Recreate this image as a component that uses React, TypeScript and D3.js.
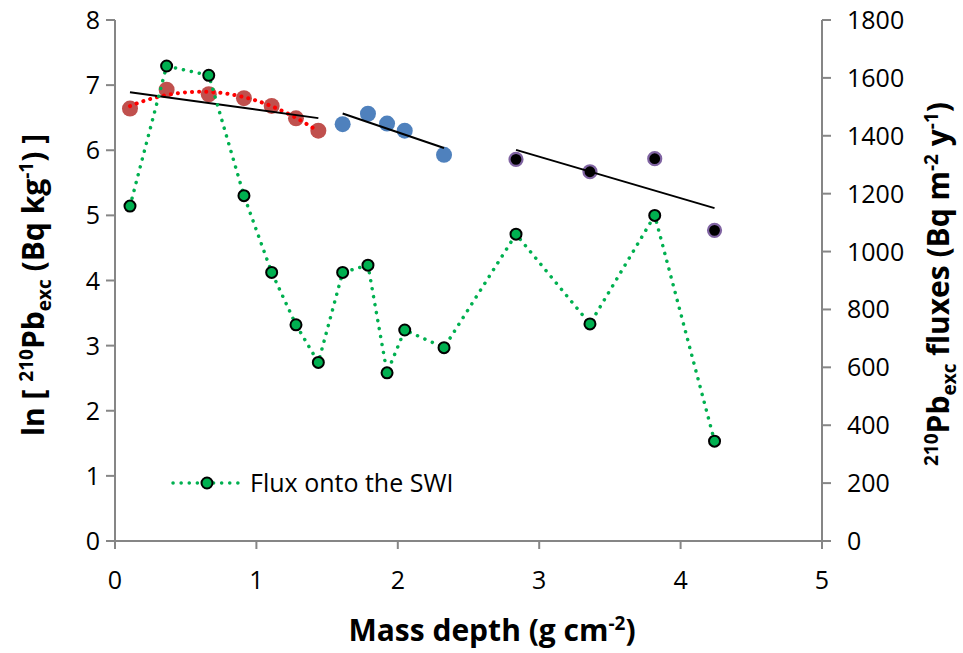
import React from "react";
import * as d3 from "d3";

const depthRed = [0.106, 0.365, 0.663, 0.912, 1.108, 1.28, 1.438];
const lnRed = [6.64, 6.93, 6.86, 6.8, 6.68, 6.49, 6.3];
const depthBlue = [1.61, 1.789, 1.924, 2.049, 2.327];
const lnBlue = [6.4, 6.56, 6.41, 6.3, 5.93];
const depthBlack = [2.836, 3.359, 3.817, 4.24];
const lnBlack = [5.86, 5.67, 5.87, 4.77];
const fluxDepth = [...depthRed, ...depthBlue, ...depthBlack];
const fluxValues = [1157, 1641, 1609, 1193, 928, 747, 617, 928, 953, 581, 729, 668, 1060, 750, 1125, 345];
const xTicks = [0, 1, 2, 3, 4, 5];
const yLeftTicks = [0, 1, 2, 3, 4, 5, 6, 7, 8];
const yRightTicks = [0, 200, 400, 600, 800, 1000, 1200, 1400, 1600, 1800];
const legendLabel = "Flux onto the SWI";

const W = 963, H = 653;
const FONT = "'Open Sans', 'Noto Sans', sans-serif";
const AXIS = "#868686";

function linFit(xs: number[], ys: number[]) {
  const mx = d3.mean(xs)!, my = d3.mean(ys)!;
  let sxy = 0, sxx = 0;
  xs.forEach((x, i) => { sxy += (x - mx) * (ys[i] - my); sxx += (x - mx) ** 2; });
  const b = sxy / sxx;
  return (x: number) => my + b * (x - mx);
}

function quadFit(xs: number[], ys: number[]) {
  const s = (p: number) => d3.sum(xs, (x) => x ** p);
  const t = (p: number) => d3.sum(xs, (x, i) => x ** p * ys[i]);
  const A = [
    [s(0), s(1), s(2), t(0)],
    [s(1), s(2), s(3), t(1)],
    [s(2), s(3), s(4), t(2)],
  ];
  for (let i = 0; i < 3; i++) {
    for (let j = i + 1; j < 3; j++) {
      const f = A[j][i] / A[i][i];
      for (let k = i; k < 4; k++) A[j][k] -= f * A[i][k];
    }
  }
  const r = [0, 0, 0];
  for (let i = 2; i >= 0; i--) {
    let v = A[i][3];
    for (let k = i + 1; k < 3; k++) v -= A[i][k] * r[k];
    r[i] = v / A[i][i];
  }
  return (x: number) => r[0] + r[1] * x + r[2] * x * x;
}

export default function App() {
  const x = d3.scaleLinear().domain([0, 5]).range([115, 822]);
  const yL = d3.scaleLinear().domain([0, 8]).range([541, 20]);
  const yR = d3.scaleLinear().domain([0, 1800]).range([541, 20]);

  const fits = [
    [depthRed, lnRed],
    [depthBlue, lnBlue],
    [depthBlack, lnBlack],
  ].map(([xs, ys]) => {
    const f = linFit(xs, ys);
    const x0 = d3.min(xs)!, x1 = d3.max(xs)!;
    return { x1: x(x0), y1: yL(f(x0)), x2: x(x1), y2: yL(f(x1)) };
  });

  const q = quadFit(depthRed, lnRed);
  const qx = d3.range(0, 61).map((i) => depthRed[0] + (i / 60) * (depthRed[depthRed.length - 1] - depthRed[0]));
  const qPath = d3.line<number>().x((d) => x(d)).y((d) => yL(q(d)))(qx)!;

  const fluxPath = d3.line<number>().x((d, i) => x(fluxDepth[i])).y((d) => yR(d))(fluxValues)!;

  const tickFont = 25;
  const titleFont = 30;
  const supFont = 19;

  return (
    <svg width={W} height={H} style={{ position: "absolute", left: 0, top: 0, background: "#fff" }} fontFamily={FONT}>
      <rect width={W} height={H} fill="#fff" />
      {/* axes */}
      <line x1={115} x2={822} y1={541} y2={541} stroke={AXIS} strokeWidth={2} />
      <line x1={115} x2={115} y1={20} y2={541} stroke={AXIS} strokeWidth={2} />
      <line x1={822} x2={822} y1={20} y2={541} stroke={AXIS} strokeWidth={2} />
      {xTicks.map((t) => (
        <g key={"xt" + t}>
          <line x1={x(t)} x2={x(t)} y1={541} y2={549} stroke={AXIS} strokeWidth={2} />
          <text x={x(t)} y={589} textAnchor="middle" fontSize={tickFont} fill="#000">{t}</text>
        </g>
      ))}
      {yLeftTicks.map((t) => (
        <g key={"yl" + t}>
          <line x1={106} x2={115} y1={yL(t)} y2={yL(t)} stroke={AXIS} strokeWidth={2} />
          <text x={100} y={yL(t) + 9} textAnchor="end" fontSize={tickFont} fill="#000">{t}</text>
        </g>
      ))}
      {yRightTicks.map((t) => (
        <g key={"yr" + t}>
          <line x1={822} x2={831} y1={yR(t)} y2={yR(t)} stroke={AXIS} strokeWidth={2} />
          <text x={847} y={yR(t) + 9} textAnchor="start" fontSize={tickFont} fill="#000">{t}</text>
        </g>
      ))}

      {/* axis titles */}
      <text x={492} y={641} textAnchor="middle" fontSize={30} fontWeight="bold" fill="#000">
        Mass depth (g cm<tspan dy={-11} fontSize={supFont}>-2</tspan><tspan dy={11}>)</tspan>
      </text>
      <text transform="translate(44,285) rotate(-90)" textAnchor="middle" fontSize={titleFont} fontWeight="bold" fill="#000">
        ln [ <tspan dy={-11} fontSize={supFont}>210</tspan><tspan dy={11}>Pb</tspan><tspan dy={7} fontSize={supFont}>exc</tspan><tspan dy={-7}> (Bq kg</tspan><tspan dy={-11} fontSize={supFont}>-1</tspan><tspan dy={11}>) ]</tspan>
      </text>
      <text transform="translate(949,284) rotate(-90)" textAnchor="middle" fontSize={titleFont} fontWeight="bold" fill="#000">
        <tspan dy={-11} fontSize={supFont}>210</tspan><tspan dy={11}>Pb</tspan><tspan dy={7} fontSize={supFont}>exc</tspan><tspan dy={-7}> fluxes (Bq m</tspan><tspan dy={-11} fontSize={supFont}>-2</tspan><tspan dy={11}> y</tspan><tspan dy={-11} fontSize={supFont}>-1</tspan><tspan dy={11}>)</tspan>
      </text>

      {/* primary series */}
      {depthRed.map((d, i) => (
        <circle key={"r" + i} cx={x(d)} cy={yL(lnRed[i])} r={8} fill="#c0504d" />
      ))}
      {depthBlue.map((d, i) => (
        <circle key={"b" + i} cx={x(d)} cy={yL(lnBlue[i])} r={8} fill="#4f81bd" />
      ))}
      {depthBlack.map((d, i) => (
        <circle key={"k" + i} cx={x(d)} cy={yL(lnBlack[i])} r={6.5} fill="#000" stroke="#8064a2" strokeWidth={2.2} />
      ))}

      {/* trendlines */}
      <path d={qPath} fill="none" stroke="#ff0000" strokeWidth={4} strokeDasharray="0.1 7" strokeLinecap="round" />
      {fits.map((f, i) => (
        <line key={"f" + i} {...f} stroke="#000" strokeWidth={2} />
      ))}

      {/* secondary series */}
      <path d={fluxPath} fill="none" stroke="#00b050" strokeWidth={3.5} strokeDasharray="0.1 8" strokeLinecap="round" />
      {fluxValues.map((v, i) => (
        <circle key={"g" + i} cx={x(fluxDepth[i])} cy={yR(v)} r={5.5} fill="#00b050" stroke="#000" strokeWidth={2} />
      ))}

      {/* legend */}
      <line x1={173} x2={240} y1={483} y2={483} stroke="#00b050" strokeWidth={3.5} strokeDasharray="0.1 8" strokeLinecap="round" />
      <circle cx={207} cy={483} r={5.5} fill="#00b050" stroke="#000" strokeWidth={2} />
      <text x={250} y={492} fontSize={25} fill="#000">{legendLabel}</text>
    </svg>
  );
}
